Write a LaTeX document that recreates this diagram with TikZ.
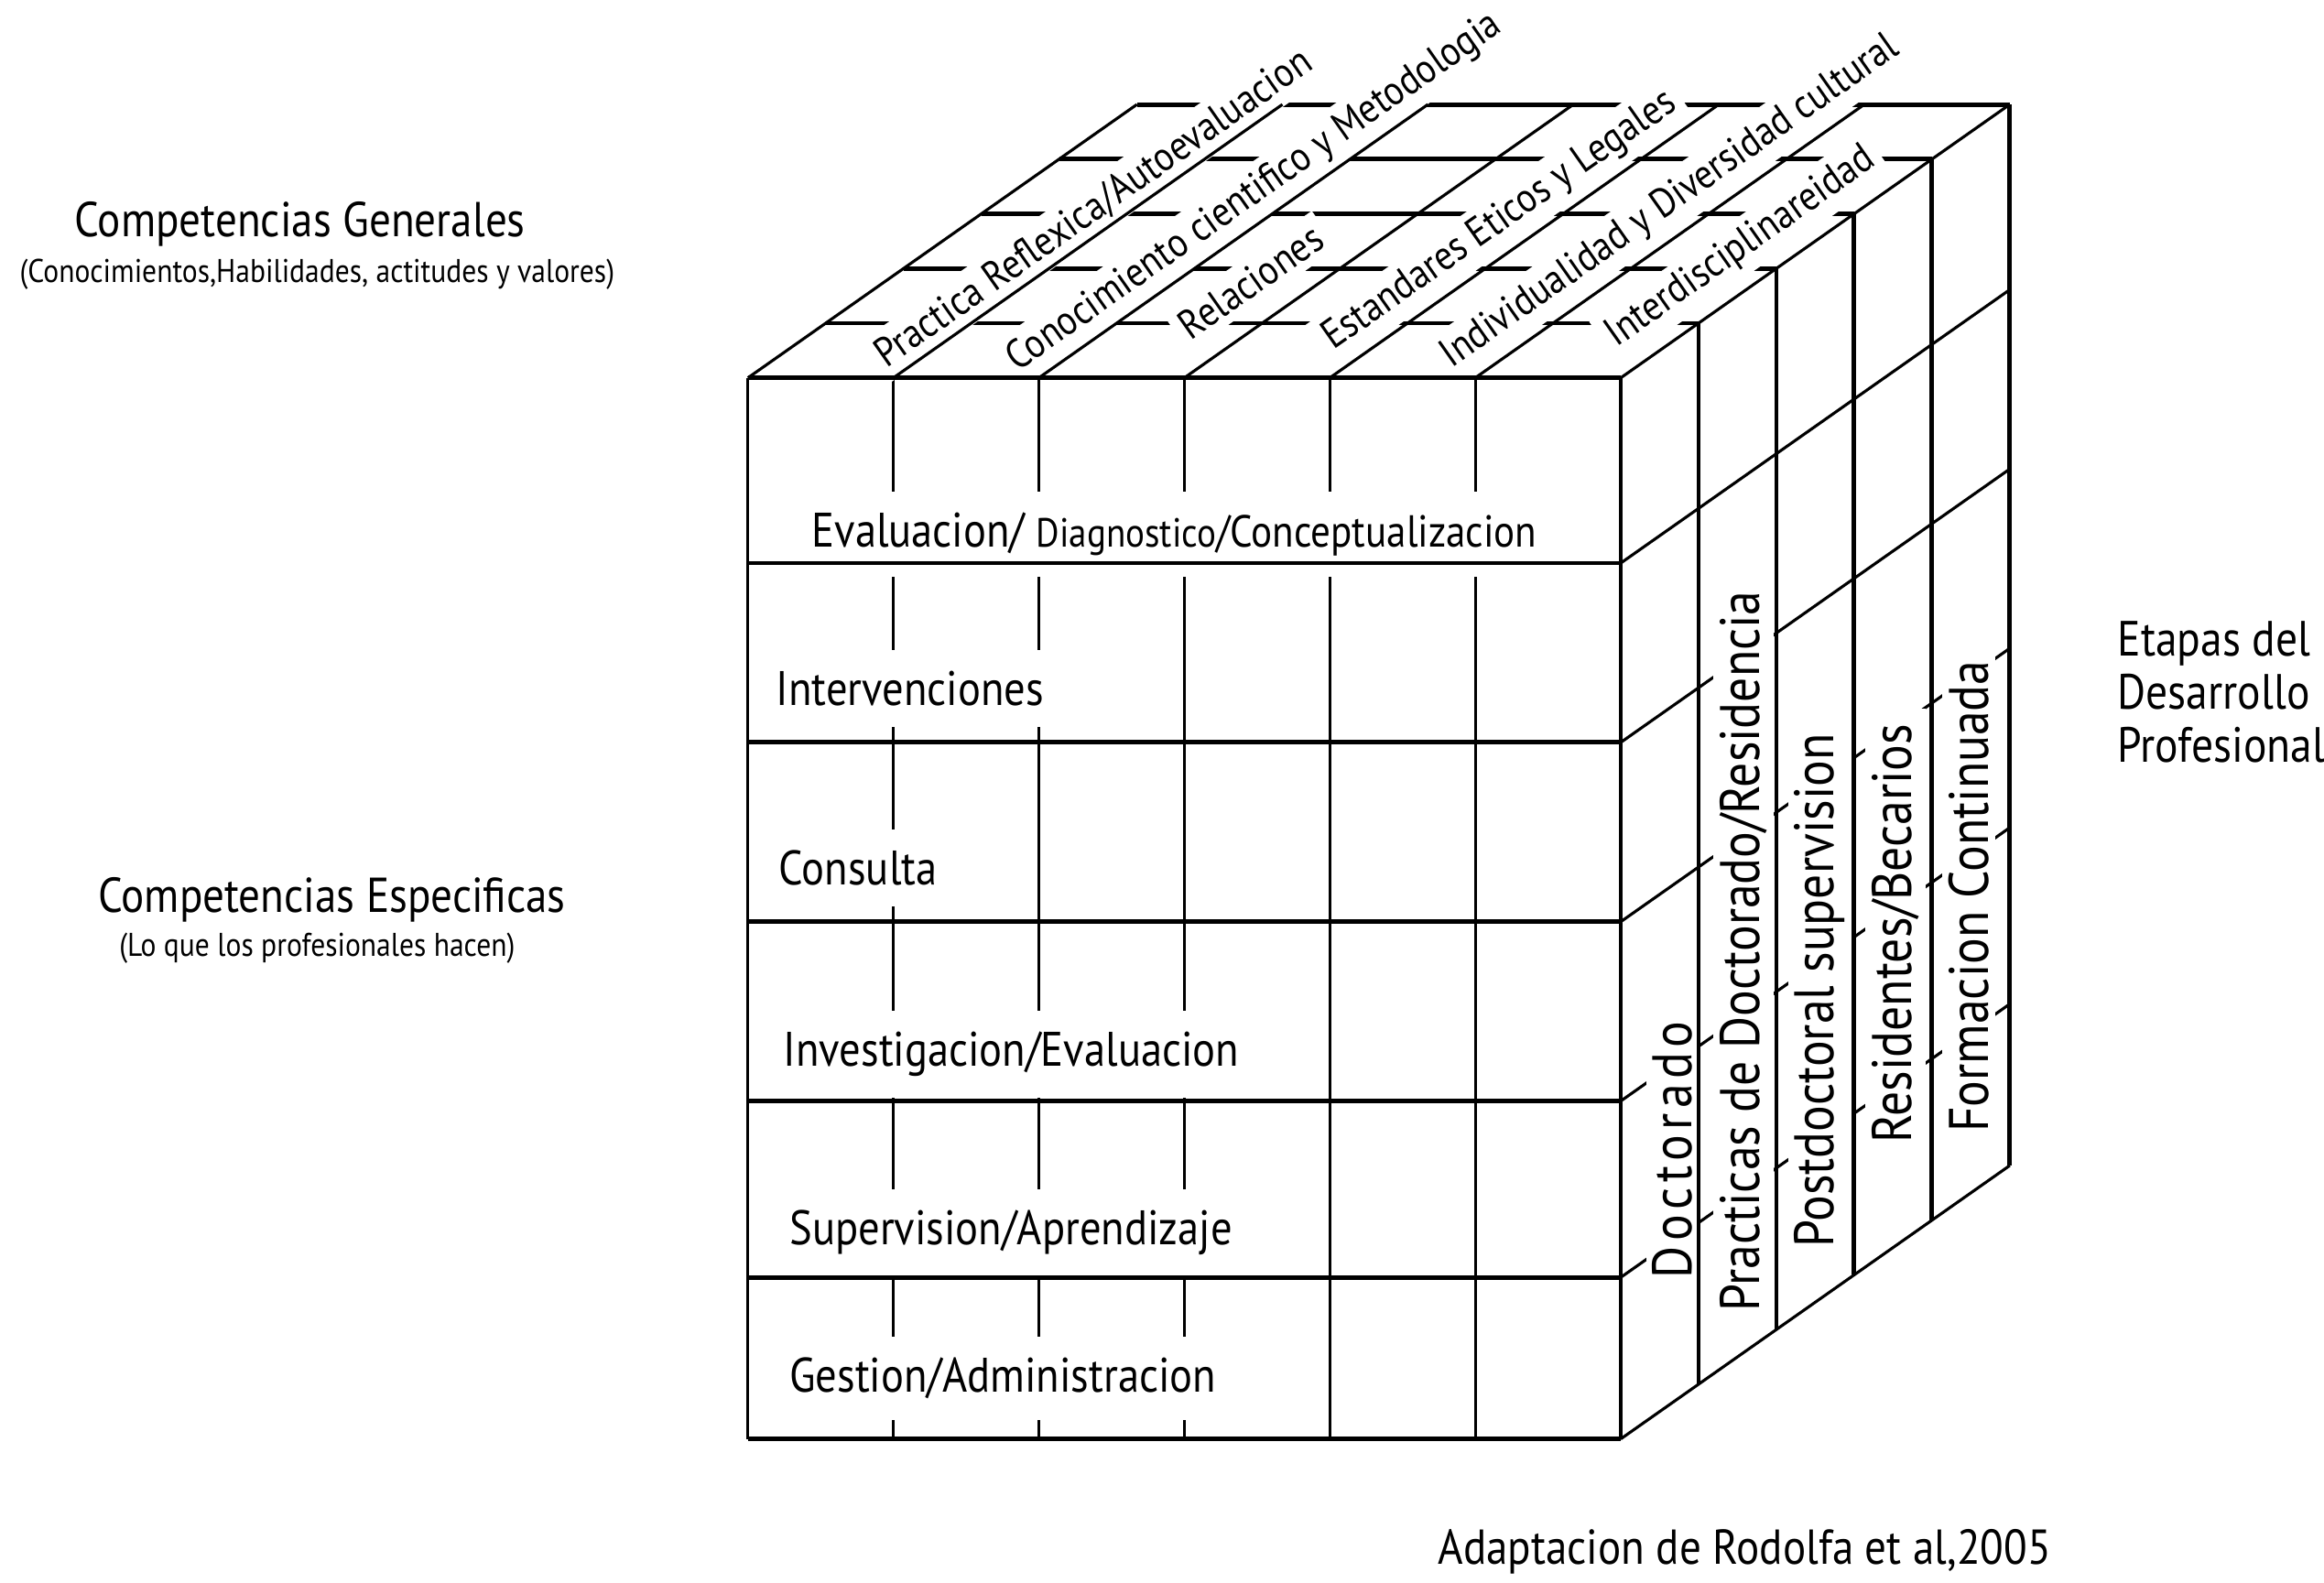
\documentclass[tikz,border=0pt]{standalone}
\usepackage{fontspec}
\setmainfont{PT Sans}[FakeStretch=0.88]
\usepackage{tikz}
\tikzset{CubeThick/.style={line width=0.85pt}}
\tikzset{CubeThin/.style={line width=0.55pt}}
\tikzset{CubeRow/.style={fill=white,anchor=base west,inner xsep=2pt,inner ysep=4pt,font=\fontsize{9.3}{10}\selectfont}}
\tikzset{CubeTop/.style={fill=white,anchor=base west,rotate=35.1,inner sep=1.5pt,font=\fontsize{7.9}{8}\selectfont}}
\tikzset{CubeStage/.style={fill=white,rotate=90,inner xsep=3pt,inner ysep=1.2pt,font=\fontsize{10.7}{11}\selectfont}}
\tikzset{SideTitle/.style={font=\fontsize{9.4}{10}\selectfont}}
\tikzset{SideNote/.style={font=\fontsize{6.3}{7}\selectfont}}

\begin{document}
\begin{tikzpicture}[x=0.01cm,y=-0.01cm]
\fill[white] (0,0) rectangle (1568,1068);
\useasboundingbox (0,0) rectangle (1568,1068);
\foreach \i in {0,...,6}
  \draw[CubeThin] (504.6+98.15*\i,255) -- (504.6+98.15*\i,971);
\foreach \k in {1,...,5}
  \draw[CubeThick] (504.6+52.5*\k,255-36.9*\k) -- ++(588.9,0);
\foreach \y in {380,501,622,743,862,971}
  \draw[CubeThin] (1093.5,\y) -- ++(262.5,-184.5);
\node (ev) at (540,369) [CubeRow] {Evaluacion/ {\fontsize{7.8}{8}\selectfont Diagnostico}{\fontsize{8.6}{9}\selectfont/Conceptualizacion}};
\node (int) at (516,476) [CubeRow] {Intervenciones};
\node (cons) at (518,597) [CubeRow] {Consulta};
\node (inv) at (521,719.5) [CubeRow] {Investigacion/Evaluacion};
\node (sup) at (525,840) [CubeRow] {Supervision/Aprendizaje};
\node (gest) at (525,939.5) [CubeRow] {Gestion/Administracion};
\node (prac) at (593.7,252) [CubeTop] {Practica Reflexica/Autoevaluacion};
\node (cono) at (681.7,254.5) [CubeTop] {Conocimiento cientifico y Metodologia};
\node (rel) at (798.7,233.5) [CubeTop] {Relaciones};
\node (est) at (894.7,240) [CubeTop] {Estandares Eticos y Legales};
\node (indi) at (974.7,252) [CubeTop] {Individualidad y Diversidad cultural};
\node (inter) at (1086,238) [CubeTop] {Interdisciplinareidad};
\node (doc) at (1128.6,776) [CubeStage] {\addfontfeature{LetterSpace=9}Doctorado};
\node (pdoc) at (1176.3,642) [CubeStage] {Practicas de Doctorado/Residencia};
\node (post) at (1227.6,668.5) [CubeStage] {Postdoctoral supervision};
\node (resi) at (1279,630) [CubeStage] {Residentes/Becarios};
\node (form) at (1328.3,605) [CubeStage] {Formacion Continuada};
\foreach \y in {255,380,501,622,743,862,971}
  \draw[CubeThick] (504.6,\y) -- (1093.5,\y);
\foreach \i in {0,...,6}
  \draw[CubeThin] (504.6+98.15*\i,255) -- ++(262.5,-184.5);
\foreach \k in {1,...,5}
  \draw[CubeThick] (1093.5+52.5*\k,255-36.9*\k) -- ++(0,716);
\node (gen) at (202.5,151) [SideTitle] {Competencias Generales};
\node (gennote) at (214,185) [SideNote] {(Conocimientos,Habilidades, actitudes y valores)};
\node (esp) at (224,607) [SideTitle] {Competencias Especificas};
\node (espnote) at (214,640) [SideNote] {(Lo que los profesionales hacen)};
\node (etapas) at (1428,467) [anchor=west,inner sep=0pt,align=left,font=\fontsize{9.5}{10.2}\selectfont] {Etapas del\\Desarrollo\\Profesional};
\node (adapt) at (1177,1047) [font=\fontsize{9.4}{10}\selectfont] {Adaptacion de Rodolfa et al,2005};
\end{tikzpicture}
\end{document}
